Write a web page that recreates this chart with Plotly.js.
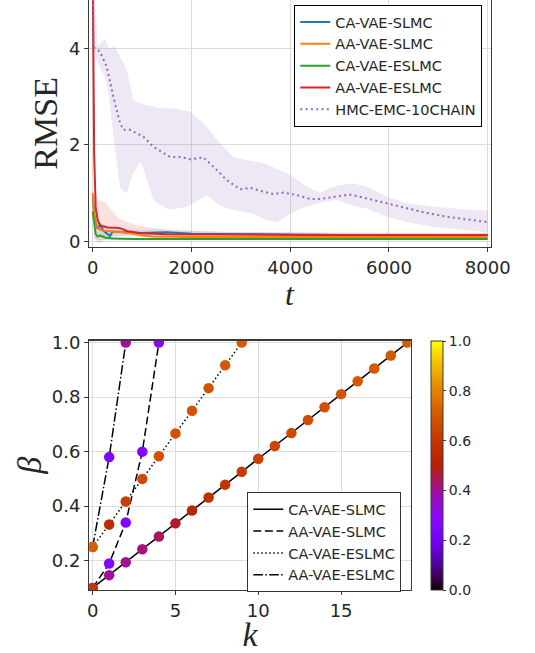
<!DOCTYPE html>
<html>
<head>
<meta charset="utf-8">
<script src="https://cdn.plot.ly/plotly-3.0.1.min.js"></script>
<style>html,body{margin:0;padding:0;background:#fff;}#chart{width:535px;height:653px;}</style>
</head>
<body>
<div id="chart"></div>
<script>
// ---------- Top panel: RMSE vs t ----------
const seriesNames = ["CA-VAE-SLMC", "AA-VAE-SLMC", "CA-VAE-ESLMC", "AA-VAE-ESLMC", "HMC-EMC-10CHAIN"];

const tBlue = [0, 40, 100, 150, 220, 300, 350, 400, 550, 800, 1000, 1500, 2000, 2500, 3000, 4000, 5000, 6000, 7000, 8000];
const rmseBlue = [0.9, 0.5, 0.26, 0.34, 0.22, 0.14, 0.11, 0.2, 0.2, 0.17, 0.18, 0.19, 0.16, 0.15, 0.15, 0.14, 0.13, 0.13, 0.12, 0.12];

const tOrange = [0, 30, 100, 150, 250, 350, 550, 800, 1000, 1200, 2000, 3000, 4000, 5000, 6000, 7000, 8000];
const rmseOrange = [1.0, 0.5, 0.3, 0.24, 0.22, 0.21, 0.2, 0.17, 0.12, 0.1, 0.09, 0.09, 0.09, 0.09, 0.09, 0.09, 0.09];

const tGreen = [0, 30, 60, 100, 150, 250, 400, 800, 2000, 3000, 4000, 5000, 6000, 7000, 8000];
const rmseGreen = [0.62, 0.4, 0.15, 0.1, 0.12, 0.08, 0.06, 0.05, 0.05, 0.05, 0.05, 0.05, 0.05, 0.05, 0.05];

const tRed = [0, 30, 60, 100, 150, 300, 500, 600, 700, 1000, 1500, 2000, 3000, 4000, 5000, 6000, 7000, 8000];
const rmseRed = [5.6, 1.8, 0.7, 0.45, 0.33, 0.29, 0.28, 0.26, 0.21, 0.17, 0.15, 0.15, 0.14, 0.14, 0.13, 0.13, 0.13, 0.13];

const tRedBand = [30, 100, 250, 520, 860, 1520, 2500, 4000, 6000, 8000];
const redBandUpper = [1.2, 0.86, 0.81, 0.48, 0.34, 0.23, 0.2, 0.19, 0.18, 0.18];
const redBandLower = [0.1, -0.05, 0.02, 0.1, 0.1, 0.1, 0.1, 0.1, 0.1, 0.1];

const tBlueBand = [100, 500, 1000, 1500, 2000, 3000, 5000, 8000];
const blueBandUpper = [0.4, 0.26, 0.24, 0.25, 0.22, 0.19, 0.17, 0.16];
const blueBandLower = [0.1, 0.12, 0.12, 0.13, 0.11, 0.11, 0.1, 0.09];

const tGreenBand = [30, 100, 400, 1000, 3000, 8000];
const greenBandUpper = [0.6, 0.16, 0.09, 0.08, 0.08, 0.08];
const greenBandLower = [0.05, 0.03, 0.03, 0.03, 0.03, 0.03];

const tHmc = [0, 20, 148, 283, 418, 553, 621, 756, 1025, 1228, 1566, 1768, 1970, 2240, 2443, 2714, 2983, 3186, 3455, 3658, 3860, 4132, 4401, 4604, 4873, 5211, 5549, 5954, 6359, 6764, 7170, 7575, 8000];
const rmseHmc = [6.0, 4.02, 3.93, 3.62, 3.0, 2.45, 2.31, 2.31, 2.17, 1.96, 1.75, 1.75, 1.7, 1.74, 1.55, 1.27, 1.08, 1.11, 1.03, 0.98, 1.01, 0.96, 0.88, 0.88, 0.92, 0.97, 0.89, 0.79, 0.7, 0.59, 0.51, 0.46, 0.4];

const tHmcBand = [0, 100, 250, 330, 450, 560, 690, 820, 960, 1025, 1230, 1296, 1570, 1633, 1900, 1970, 2173, 2308, 2578, 2848, 3118, 3253, 3523, 3725, 3928, 3995, 4334, 4604, 4673, 4873, 4940, 5279, 5549, 5954, 6359, 6900, 7575, 8000];
const hmcBandUpper = [6.0, 4.05, 4.19, 4.0, 4.03, 3.8, 3.55, 2.93, 2.86, 2.83, 2.8, 2.76, 2.76, 2.76, 2.7, 2.69, 2.51, 2.37, 2.03, 1.75, 1.68, 1.66, 1.61, 1.5, 1.41, 1.38, 1.13, 1.01, 1.05, 1.13, 1.15, 1.2, 1.13, 0.93, 0.79, 0.72, 0.66, 0.64];
const hmcBandLower = [4.0, 3.7, 3.4, 3.0, 1.9, 1.1, 0.99, 1.4, 1.65, 1.5, 0.86, 0.8, 0.65, 0.67, 0.72, 0.75, 0.88, 0.96, 0.74, 0.65, 0.6, 0.58, 0.44, 0.4, 0.52, 0.58, 0.72, 0.8, 0.82, 0.85, 0.86, 0.74, 0.68, 0.51, 0.4, 0.3, 0.23, 0.19];

// ---------- Bottom panel: beta vs k ----------
const kCaSlmc = [0, 1, 2, 3, 4, 5, 6, 7, 8, 9, 10, 11, 12, 13, 14, 15, 16, 17, 18, 19];
const betaCaSlmc = [0.1, 0.147, 0.194, 0.242, 0.289, 0.337, 0.384, 0.432, 0.479, 0.526, 0.574, 0.621, 0.668, 0.716, 0.763, 0.811, 0.858, 0.905, 0.953, 1.0];
const colorCaSlmc = [0.6, 0.39, 0.4, 0.42, 0.44, 0.47, 0.53, 0.57, 0.59, 0.61, 0.63, 0.65, 0.66, 0.67, 0.68, 0.69, 0.7, 0.7, 0.7, 0.71];

const kAaSlmc = [0, 1, 2, 3, 4];
const betaAaSlmc = [0.1, 0.19, 0.34, 0.6, 1.0];
const colorAaSlmc = [0.25, 0.26, 0.26, 0.26, 0.27];

const kCaEslmc = [0, 1, 2, 3, 4, 5, 6, 7, 8, 9];
const betaCaEslmc = [0.25, 0.333, 0.417, 0.5, 0.583, 0.667, 0.75, 0.833, 0.917, 1.0];
const colorCaEslmc = [0.72, 0.55, 0.63, 0.66, 0.68, 0.68, 0.69, 0.69, 0.7, 0.71];

const kAaEslmc = [0, 1, 2];
const betaAaEslmc = [0.25, 0.58, 1.0];
const colorAaEslmc = [0.72, 0.26, 0.39];

const colorbarTicks = [0, 0.2, 0.4, 0.6, 0.8, 1.0];

// matplotlib "gnuplot" colormap stops (style)
const gnuplotScale = [];
for (let i = 0; i <= 40; i++) {
  const x = i / 40;
  const r = Math.sqrt(x), g = Math.pow(x, 3), b = Math.max(0, Math.sin(2 * Math.PI * x));
  gnuplotScale.push([x, `rgb(${Math.round(r*255)},${Math.round(g*255)},${Math.round(b*255)})`]);
}

const C = {blue: "#1f77b4", orange: "#ff7f0e", green: "#2ca02c", red: "#d62728", purple: "#9467bd"};
const TXT = "#262626";
const GRID = "#dcdcdc";
const SPINE = "#3a3a3a";

function band(x, lo, hi, color) {
  return [
    {x: x, y: lo, type: "scatter", mode: "lines", line: {width: 0}, hoverinfo: "skip", showlegend: false, xaxis: "x", yaxis: "y"},
    {x: x, y: hi, type: "scatter", mode: "lines", line: {width: 0}, fill: "tonexty", fillcolor: color, hoverinfo: "skip", showlegend: false, xaxis: "x", yaxis: "y"}
  ];
}

const traces = [];
traces.push(...band(tHmcBand, hmcBandLower, hmcBandUpper, "rgba(148,103,189,0.16)"));
traces.push(...band(tRedBand, redBandLower, redBandUpper, "rgba(214,39,40,0.14)"));
traces.push(...band(tBlueBand, blueBandLower, blueBandUpper, "rgba(31,119,180,0.12)"));
traces.push(...band(tGreenBand, greenBandLower, greenBandUpper, "rgba(44,160,44,0.12)"));

traces.push({x: tBlue, y: rmseBlue, name: seriesNames[0], type: "scatter", mode: "lines", line: {color: C.blue, width: 2}, xaxis: "x", yaxis: "y", legend: "legend"});
traces.push({x: tOrange, y: rmseOrange, name: seriesNames[1], type: "scatter", mode: "lines", line: {color: C.orange, width: 2}, xaxis: "x", yaxis: "y", legend: "legend"});
traces.push({x: tGreen, y: rmseGreen, name: seriesNames[2], type: "scatter", mode: "lines", line: {color: C.green, width: 2}, xaxis: "x", yaxis: "y", legend: "legend"});
traces.push({x: tRed, y: rmseRed, name: seriesNames[3], type: "scatter", mode: "lines", line: {color: C.red, width: 2}, xaxis: "x", yaxis: "y", legend: "legend"});
traces.push({x: tHmc, y: rmseHmc, name: seriesNames[4], type: "scatter", mode: "lines", line: {color: C.purple, width: 2, dash: "2px,3.3px"}, xaxis: "x", yaxis: "y", legend: "legend"});

// bottom lines
const lineStyles = ["solid", "8px,3.6px", "1.5px,2.5px", "9.6px,2.4px,1.5px,2.4px"];
const kSets = [kCaSlmc, kAaSlmc, kCaEslmc, kAaEslmc];
const bSets = [betaCaSlmc, betaAaSlmc, betaCaEslmc, betaAaEslmc];
const cSets = [colorCaSlmc, colorAaSlmc, colorCaEslmc, colorAaEslmc];
for (let i = 0; i < 4; i++) {
  traces.push({x: kSets[i], y: bSets[i], name: seriesNames[i], type: "scatter", mode: "lines",
    line: {color: "#000", width: 1.5, dash: lineStyles[i]}, xaxis: "x2", yaxis: "y2", legend: "legend2"});
}
// markers, drawn so the visible overlapping points match
const markerOrder = [3, 2, 1, 0];
markerOrder.forEach((i, j) => {
  traces.push({x: kSets[i], y: bSets[i], type: "scatter", mode: "markers", showlegend: false,
    marker: {size: 10.5, color: cSets[i], colorscale: gnuplotScale, cmin: 0, cmax: 1, line: {width: 0},
      showscale: j === 3,
      colorbar: {x: 431/535, xanchor: "left", y: 1 - 590/653, yanchor: "bottom", len: 249.3/653, lenmode: "fraction",
        thickness: 12, thicknessmode: "pixels", xpad: 0, ypad: 0, outlinecolor: SPINE, outlinewidth: 1,
        tickvals: colorbarTicks, tickformat: ".1f", ticks: "outside", ticklen: 3, tickcolor: SPINE,
        tickfont: {family: "DejaVu Sans", size: 14, color: TXT}}},
    xaxis: "x2", yaxis: "y2"});
});

const tickFont = {family: "DejaVu Sans", size: 18, color: TXT};
const layout = {
  width: 535, height: 653,
  margin: {l: 0, r: 0, t: 0, b: 0},
  paper_bgcolor: "#fff", plot_bgcolor: "#fff",
  showlegend: true,
  xaxis: {domain: [89.3/535, 490.7/535], anchor: "y", range: [-69, 8061], tickvals: [0, 2000, 4000, 6000, 8000],
    showgrid: true, gridcolor: GRID, gridwidth: 1, zeroline: false, showline: true, linecolor: SPINE, linewidth: 1.3, mirror: false,
    ticks: "outside", ticklen: 4, tickcolor: SPINE, tickfont: tickFont},
  yaxis: {domain: [1 - 246.7/653, 1], anchor: "x", range: [-0.11, 5.0], tickvals: [0, 2, 4],
    showgrid: true, gridcolor: GRID, gridwidth: 1, zeroline: false, showline: true, linecolor: SPINE, linewidth: 1.3, mirror: true,
    ticks: "outside", ticklen: 4, tickcolor: SPINE, tickfont: tickFont,
    title: {text: "RMSE", font: {family: "Liberation Serif", size: 34, color: TXT}, standoff: 1}},
  xaxis2: {domain: [89.3/535, 410.7/535], anchor: "y2", range: [-0.2, 19.2], tickvals: [0, 5, 10, 15],
    showgrid: true, gridcolor: GRID, gridwidth: 1, zeroline: false, showline: true, linecolor: SPINE, linewidth: 1.3, mirror: true,
    ticks: "outside", ticklen: 4, tickcolor: SPINE, tickfont: tickFont,
    title: {text: "<i>k</i>", font: {family: "Liberation Serif", size: 34, color: TXT}, standoff: 4}},
  yaxis2: {domain: [1 - 590/653, 1 - 340.7/653], anchor: "x2", range: [0.0925, 1.007], tickvals: [0.2, 0.4, 0.6, 0.8, 1.0], tickformat: ".1f",
    showgrid: true, gridcolor: GRID, gridwidth: 1, zeroline: false, showline: true, linecolor: SPINE, linewidth: 1.3, mirror: true,
    ticks: "outside", ticklen: 4, tickcolor: SPINE, tickfont: tickFont,
    title: {text: "<i>β</i>", font: {family: "Liberation Serif", size: 34, color: TXT}, standoff: 0}},
  annotations: [
    {text: "<i>t</i>", xref: "paper", yref: "paper", x: 290/535, y: 1 - 274/653, xanchor: "center", yanchor: "top",
     showarrow: false, font: {family: "Liberation Serif", size: 32, color: TXT}}
  ],
  legend: {x: 294.3/535, xanchor: "left", y: 1 - 5/653, yanchor: "top", bgcolor: "#fff", bordercolor: "#000", borderwidth: 1,
    font: {family: "DejaVu Sans", size: 14.5, color: TXT}, itemwidth: 30, tracegroupgap: 0, traceorder: "normal"},
  legend2: {x: 247.3/535, xanchor: "left", y: 1 - 492.3/653, yanchor: "top", bgcolor: "#fff", bordercolor: "#333", borderwidth: 1,
    font: {family: "DejaVu Sans", size: 14.5, color: TXT}, itemwidth: 30, tracegroupgap: 0, traceorder: "normal"}
};

Plotly.newPlot("chart", traces, layout, {displayModeBar: false, staticPlot: true});
</script>
</body>
</html>
